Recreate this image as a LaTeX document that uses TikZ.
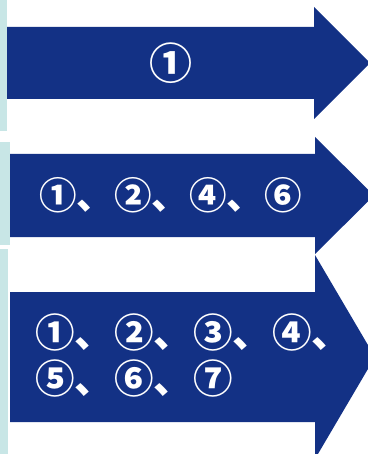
\documentclass[tikz,border=0pt]{standalone}
\usepackage{fontspec}
\newfontfamily\jpfont{Noto Sans CJK JP}
\definecolor{arrowblue}{RGB}{19,49,133}
\definecolor{stripcyan}{RGB}{200,230,230}

\begin{document}
\begin{tikzpicture}[
  x=1pt,y=-1pt,
  strip/.style={fill=stripcyan,draw=none},
  bigarrow/.style={fill=arrowblue,draw=none},
  lab/.style={text=white,inner sep=0pt,font=\jpfont\bfseries}
]
\useasboundingbox (0,0) rectangle (367,454);

% side strips
\foreach \i/\w/\ya/\yb in {1/7/0/131,2/10/142/245,3/8/249/454}{
  \fill[strip] (0,\ya) rectangle (\w,\yb);
}

% arrows: start, body top, body bottom, neck, head top, head bottom, tip
\foreach \i/\xs/\bt/\bb/\xn/\htop/\hbot/\xt in {3/10/292/422/315/255/459/375,2/10/154/237/315/137/254/374,1/7/27/99/314/7/119/370}{
  \fill[bigarrow] (\xs,\bt) -- (\xn,\bt) -- (\xn,\htop) -- (\xt,{(\htop+\hbot)/2})
    -- (\xn,\hbot) -- (\xn,\bb) -- (\xs,\bb) -- cycle;
}

\node[lab,font=\jpfont\bfseries\fontsize{43}{50}\selectfont] (t1) at (171,63) {①};
\node[lab,anchor=west,font=\jpfont\bfseries\fontsize{37.5}{44}\selectfont] (t2) at (39,195) {①、②、④、⑥};
\node[lab,anchor=north west,align=left,font=\jpfont\bfseries\fontsize{39.5}{46}\selectfont] (t3) at (35,314) {①、②、③、④、\\⑤、⑥、⑦};

\end{tikzpicture}
\end{document}
